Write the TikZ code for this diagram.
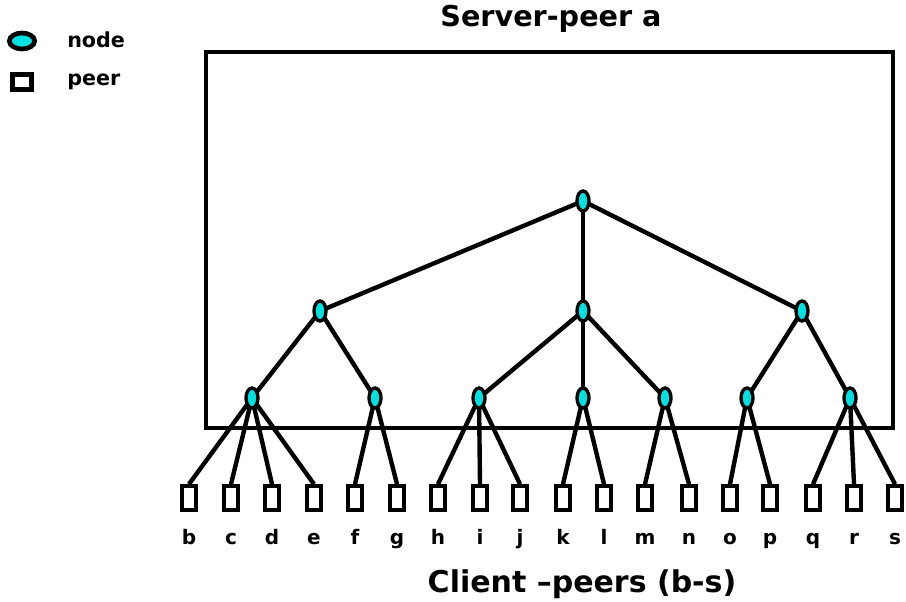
\documentclass[tikz,border=0pt]{standalone}
\usepackage{fontspec}
\setmainfont{DejaVu Sans}
\usetikzlibrary{shapes.geometric}
\definecolor{aqua}{HTML}{00E0E0}
\begin{document}
\begin{tikzpicture}[x=0.75pt,y=-0.75pt,
  tnode/.style={ellipse,draw=black,line width=2.5pt,fill=aqua,minimum width=9pt,minimum height=15pt,inner sep=0pt},
  lnode/.style={ellipse,draw=black,line width=3.5pt,fill=aqua,minimum width=19pt,minimum height=12pt,inner sep=0pt},
  peerbox/.style={rectangle,draw=black,line width=2.8pt,fill=white,minimum width=11pt,minimum height=18pt,inner sep=0pt},
  lpeer/.style={rectangle,draw=black,line width=3.3pt,fill=white,minimum width=14pt,minimum height=11pt,inner sep=0pt},
  link/.style={line width=3.3pt},
  lbl/.style={font=\bfseries\fontsize{15}{17}\selectfont,inner sep=0pt,anchor=base},
  leg/.style={font=\bfseries\fontsize{15.5}{17}\selectfont,inner sep=0pt,anchor=base west},
  ttl/.style={font=\bfseries\fontsize{21.5}{24}\selectfont,inner sep=0pt,anchor=base}]
\useasboundingbox (0,0) rectangle (906,602);
\draw[line width=2.5pt] (206,52) rectangle (893,428);
% legend
\node[lnode] (leg1) at (22,41) {};
\node[lpeer] (leg2) at (22,82) {};
\node[leg] (legt1) at (67,48) {node};
\node[leg] (legt2) at (67,86) {peer};
% titles
\node[ttl] (title) at (551,27) {Server-peer a};
\node[ttl,font=\bfseries\fontsize{22.5}{24}\selectfont] (foot) at (582,592) {Client –peers (b-s)};
% tree connector ends
\coordinate (r) at (583,201);
\coordinate (a1) at (320,311);
\coordinate (a2) at (583,311);
\coordinate (a3) at (802,311);
\coordinate (n1) at (252,398);
\coordinate (n2) at (375,398);
\coordinate (n3) at (479,398);
\coordinate (n4) at (583,398);
\coordinate (n5) at (665,398);
\coordinate (n6) at (747,398);
\coordinate (n7) at (850,398);
% peers
\foreach \l/\x in {b/189,c/231,d/272,e/314,f/355,g/397,h/438,i/480,j/520,k/563,l/604,m/645,n/689,o/730,p/770,q/813,r/854,s/895}{
  \node[peerbox] (p\l) at (\x,498) {};
  \node[lbl] (t\l) at (\x,544) {\l};
}
\foreach \a/\b in {r/a1,r/a2,r/a3,a1/n1,a1/n2,a2/n3,a2/n4,a2/n5,a3/n6,a3/n7}{
  \draw[link] (\a) -- (\b);
}
\foreach \a/\b in {n1/pb,n1/pc,n1/pd,n1/pe,n2/pf,n2/pg,n3/ph,n3/pi,n3/pj,n4/pk,n4/pl,n5/pm,n5/pn,n6/po,n6/pp,n7/pq,n7/pr,n7/ps}{
  \draw[link] (\a) -- (\b.north);
}
% tree nodes on top
\foreach \n in {r,a1,a2,a3,n1,n2,n3,n4,n5,n6,n7}{
  \node[tnode] (v\n) at (\n) {};
}
\end{tikzpicture}
\end{document}
